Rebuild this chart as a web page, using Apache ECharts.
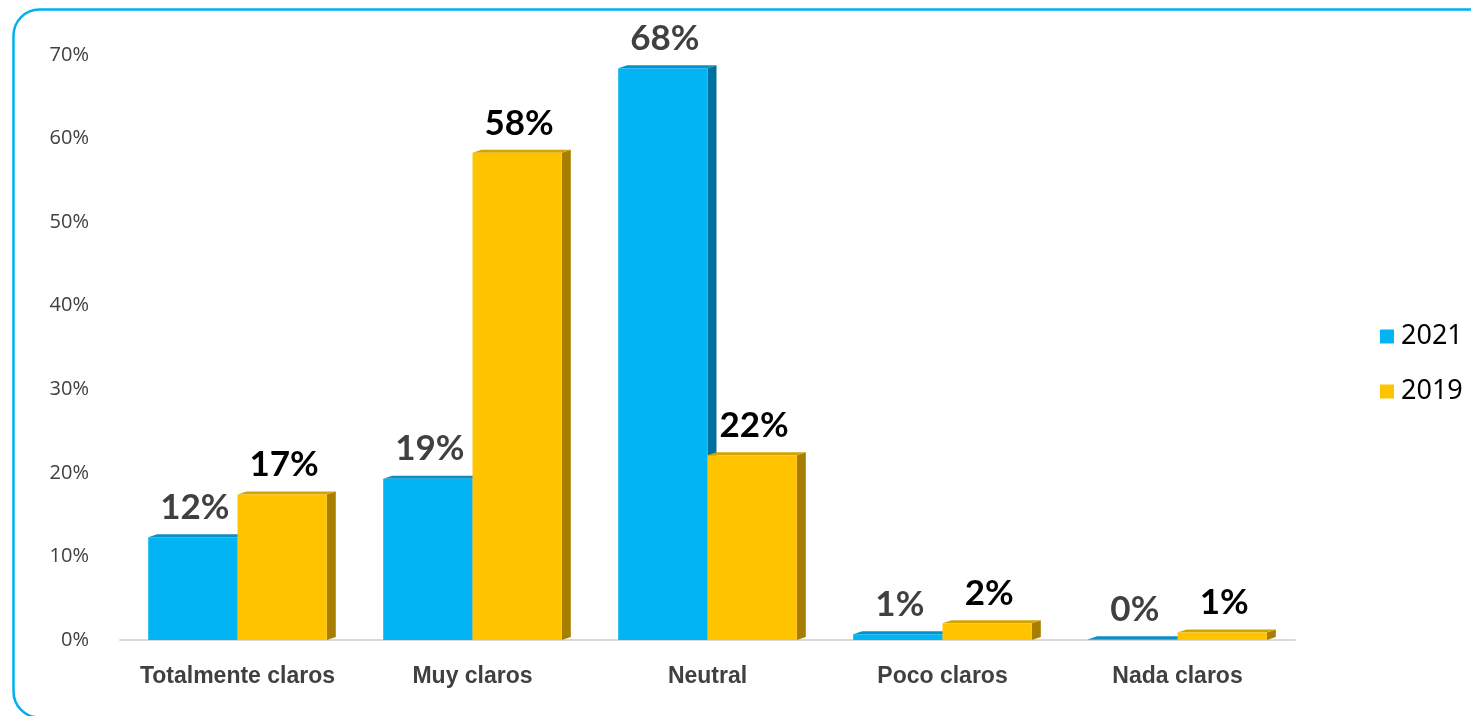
<!DOCTYPE html>
<html>
<head>
<meta charset="utf-8">
<script src="https://cdn.jsdelivr.net/npm/echarts@6/dist/echarts.min.js"></script>
<style>
html,body{margin:0;padding:0;background:#fff;}
#chart{width:1471px;height:716px;}
</style>
</head>
<body>
<div id="chart"></div>
<script>
const categories = ['Totalmente claros', 'Muy claros', 'Neutral', 'Poco claros', 'Nada claros'];
const values2021 = [12.3, 19.3, 68.4, 0.7, 0.1];
const values2019 = [17.4, 58.3, 22.1, 2.0, 0.9];
const yTicks = [0, 10, 20, 30, 40, 50, 60, 70];

const palette = {
  '2021': { front: '#02B4F3', side: '#00709E', top: '#0A8FC6', label: '#404040' },
  '2019': { front: '#FFC300', side: '#A67F00', top: '#D4A300', label: '#000000' }
};

function makeRender(key, sideIndex) {
  const c = palette[key];
  return function (params, api) {
    const cat = api.value(0);
    const val = api.value(1);
    const base = api.coord([cat, 0]);
    const topPt = api.coord([cat, val]);
    const band = api.size([1, 0])[0];
    const w = band * 0.38;
    const x0 = sideIndex === 0 ? base[0] - w : base[0];
    const x1 = x0 + w;
    const yb = base[1];
    const yt = topPt[1];
    const dx = 9, dy = 3;
    const label = Math.round(val) + '%';
    return {
      type: 'group',
      children: [
        { type: 'polygon', shape: { points: [[x1, yb], [x1 + dx, yb - dy], [x1 + dx, yt - dy], [x1, yt]] },
          style: { fill: c.side } },
        { type: 'polygon', shape: { points: [[x0, yt], [x0 + dx, yt - dy], [x1 + dx, yt - dy], [x1, yt]] },
          style: { fill: c.top } },
        { type: 'rect', shape: { x: x0, y: yt, width: w, height: Math.max(yb - yt, 0) },
          style: { fill: c.front } },
        { type: 'text', x: (x0 + x1) / 2 + 2, y: yt - 12,
          style: { text: label, fill: c.label, font: 'bold 35px Lato', align: 'center', verticalAlign: 'bottom' } }
      ]
    };
  };
}

const chart = echarts.init(document.getElementById('chart'));
chart.setOption({
  animation: false,
  backgroundColor: '#fff',
  graphic: [{
    type: 'rect', left: 11, top: 7, z: -1,
    shape: { x: 0, y: 0, width: 1520, height: 708, r: 26 },
    style: { fill: 'none', stroke: '#00B0F0', lineWidth: 2.5 }
  }],
  legend: {
    orient: 'vertical', left: 1375, top: 318, itemWidth: 14, itemHeight: 14, itemGap: 28, icon: 'rect',
    textStyle: { fontFamily: 'Noto Sans', fontSize: 27, color: '#000', padding: [0, 0, 0, 2] },
    data: ['2021', '2019']
  },
  grid: { left: 120, right: 176, top: 55, bottom: 76 },
  xAxis: {
    type: 'category', data: categories, boundaryGap: true,
    axisLine: { lineStyle: { color: '#D9D9D9', width: 2 } },
    axisTick: { show: false },
    axisLabel: { interval: 0, margin: 25, fontFamily: 'Liberation Sans', fontWeight: 'bold', fontSize: 23, color: '#404040' }
  },
  yAxis: {
    type: 'value', min: yTicks[0], max: yTicks[yTicks.length - 1], interval: 10,
    splitLine: { show: false }, axisLine: { show: false }, axisTick: { show: false },
    axisLabel: { formatter: '{value}%', margin: 31, fontFamily: 'Open Sans', fontSize: 20, color: '#404040' }
  },
  series: [
    { name: '2021', type: 'custom', renderItem: makeRender('2021', 0), itemStyle: { color: palette['2021'].front },
      encode: { x: 0, y: 1 }, data: values2021.map((v, i) => [i, v]), clip: false },
    { name: '2019', type: 'custom', renderItem: makeRender('2019', 1), itemStyle: { color: palette['2019'].front },
      encode: { x: 0, y: 1 }, data: values2019.map((v, i) => [i, v]), clip: false }
  ]
});
</script>
</body>
</html>
